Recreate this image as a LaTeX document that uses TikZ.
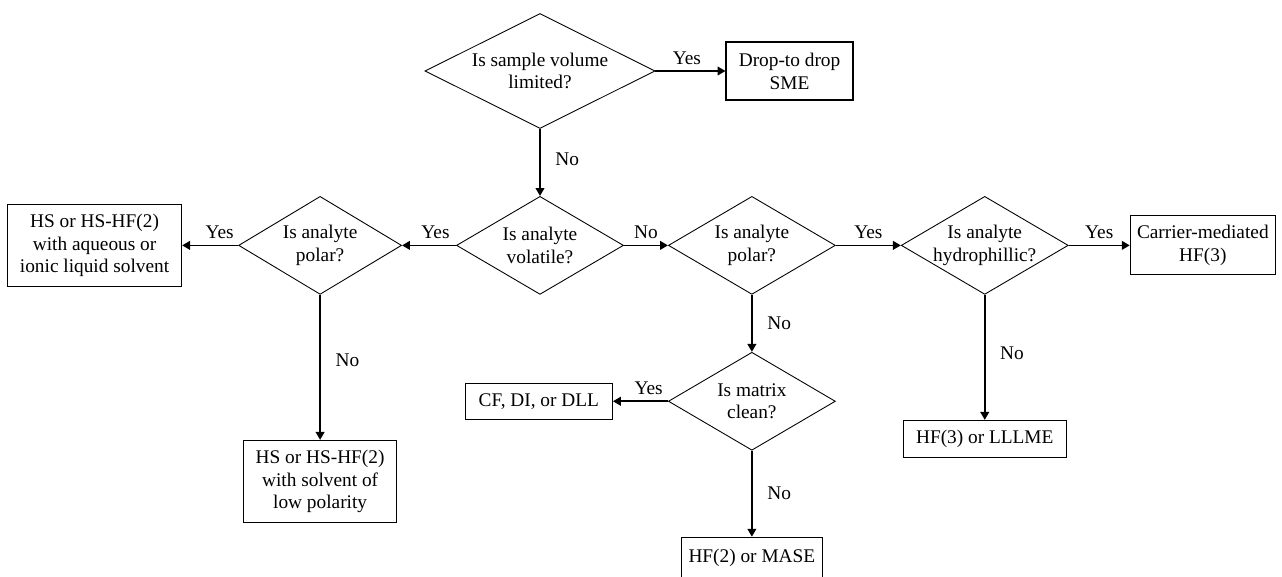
\documentclass[tikz,border=0pt]{standalone}
\usepackage{fontspec}
\setmainfont{Liberation Serif}
\usetikzlibrary{arrows.meta,positioning,shapes.geometric}

\begin{document}
\begin{tikzpicture}[
    font=\fontsize{11}{13}\selectfont,
    node distance=1cm,
    decision/.style={diamond, draw, line width=0.5pt, align=center, inner sep=0pt, inner xsep=-4pt, aspect=1.7, minimum width=3.34cm, minimum height=1.96cm},
    block/.style={draw, line width=0.7pt, align=center, inner sep=0pt},
    arrow/.style={-{Triangle[length=4.5pt,width=5pt]}, line width=0.9pt}
]
\useasboundingbox (-10.8,1.42) rectangle (14.84,-10.1);
\node[decision, minimum width=4.6cm, minimum height=2.3cm, aspect=2] (vol) {Is sample volume\\limited?};
\node[block, minimum width=2.54cm, minimum height=1.16cm, right=1.4cm of vol] (sme) {Drop-to drop\\SME};
\node[decision, below=1.34cm of vol] (volat) {Is analyte\\volatile?};
\node[decision, minimum width=3.26cm, left=1.08cm of volat] (polar1) {Is analyte\\polar?};
\node[block, minimum width=3.48cm, minimum height=1.64cm, left=1.12cm of polar1] (hsaq) {HS or HS-HF(2)\\with aqueous or\\ionic liquid solvent};
\node[block, minimum width=3.06cm, minimum height=1.64cm, below=2.9cm of polar1] (hslow) {HS or HS-HF(2)\\with solvent of\\low polarity};
\node[decision, right=0.88cm of volat] (polar2) {Is analyte\\polar?};
\node[decision, below=1.14cm of polar2] (clean) {Is matrix\\clean?};
\node[block, minimum width=2.94cm, minimum height=0.72cm, left=1.1cm of clean] (cfdi) {CF, DI, or DLL};
\node[block, minimum width=2.82cm, minimum height=0.84cm, below=1.72cm of clean] (mase) {HF(2) or MASE};
\node[decision, right=1.3cm of polar2] (hydro) {Is analyte\\hydrophillic?};
\node[block, minimum width=2.9cm, minimum height=1.18cm, right=1.22cm of hydro] (carrier) {Carrier-mediated\\HF(3)};
\node[block, minimum width=3.26cm, minimum height=0.74cm, below=2.5cm of hydro] (lllme) {HF(3) or LLLME};
\draw[arrow] (vol) -- node[above, pos=0.45] {Yes} (sme);
\draw[arrow] (vol) -- node[right=5pt, pos=0.45] {No} (volat);
\draw[arrow] (volat) -- node[above, pos=0.38] {Yes} (polar1);
\draw[arrow] (polar1) -- node[above, pos=0.33] {Yes} (hsaq);
\draw[arrow] (polar1) -- node[right=5pt, pos=0.45] {No} (hslow);
\draw[arrow] (volat) -- node[above] {No} (polar2);
\draw[arrow] (polar2) -- node[above] {Yes} (hydro);
\draw[arrow] (polar2) -- node[right=5pt] {No} (clean);
\draw[arrow] (clean) -- node[above, pos=0.35] {Yes} (cfdi);
\draw[arrow] (clean) -- node[right=5pt] {No} (mase);
\draw[arrow] (hydro) -- node[above] {Yes} (carrier);
\draw[arrow] (hydro) -- node[right=5pt, pos=0.47] {No} (lllme);
\end{tikzpicture}
\end{document}
